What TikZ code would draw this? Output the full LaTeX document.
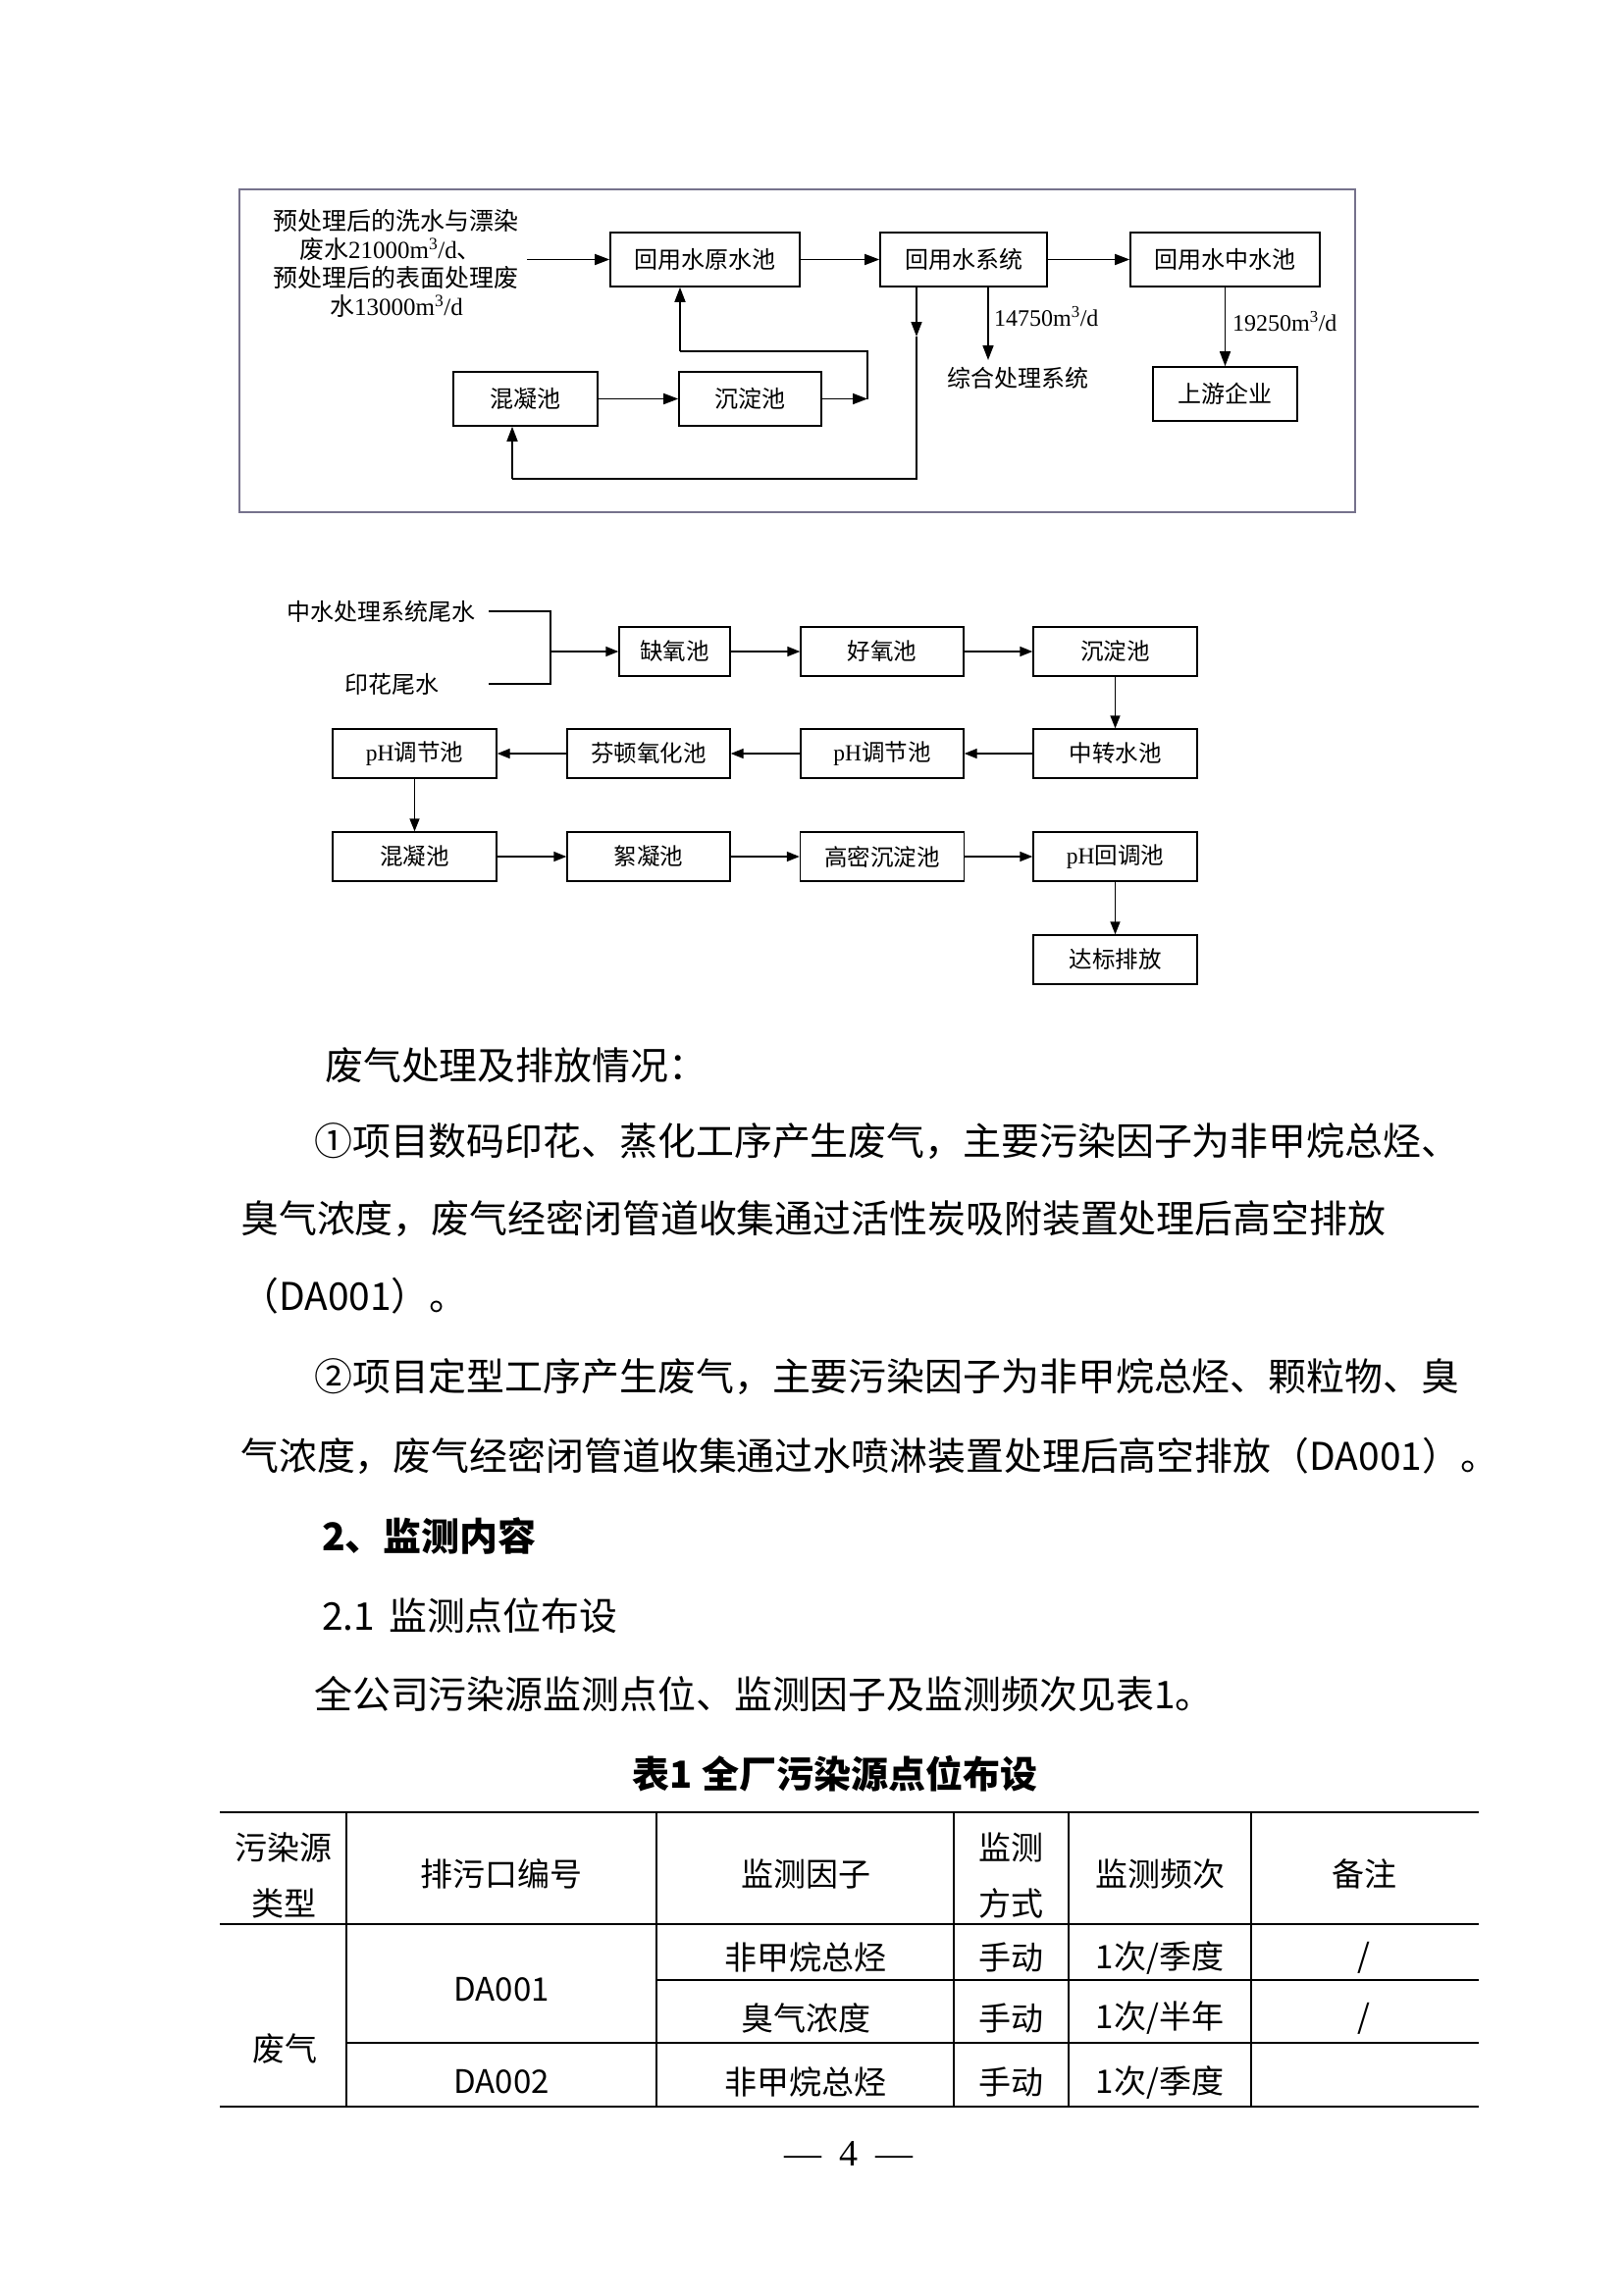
\documentclass[tikz,border=0pt]{standalone}
\usepackage{fontspec}
\setmainfont{Liberation Serif}
\newfontfamily\cjk{Noto Sans CJK SC}
\usetikzlibrary{arrows.meta}
\newcommand{\fsz}[1]{\fontsize{#1}{#1}\selectfont}
\newcommand{\zh}[1]{{\cjk #1}}
\definecolor{framec}{RGB}{118,114,140}
\tikzset{
  box/.style={draw, line width=1.6pt, minimum height=55pt, inner sep=0pt, font=\cjk\fsz{24}},
  boxb/.style={draw, line width=1.4pt, minimum height=50pt, inner sep=0pt, font=\cjk\fsz{23.5}},
  arr/.style={-{Triangle[length=15pt,width=11pt]}, line width=1.6pt},
  arrb/.style={-{Triangle[length=13pt,width=10pt]}, line width=1.4pt},
  ln/.style={line width=1.6pt},
  lnb/.style={line width=1.4pt},
  lbl/.style={inner sep=0pt, font=\fsz{24}},
  srcl/.style={inner sep=0pt, font=\fsz{25}},
  body/.style={anchor=west, inner sep=0pt, font=\cjk\fsz{38.9}},
  cell/.style={inner sep=0pt, font=\cjk\fsz{33}},
  rule/.style={line width=2.6pt},
  thin/.style={line width=1.5pt}
}
\begin{document}
\begin{tikzpicture}[x=1pt,y=-1pt]
\fill[white] (0,0) rectangle (1654,2339);
\useasboundingbox (0,0) rectangle (1654,2339);

% ---------- top diagram ----------
\draw[framec, line width=1.3pt] (244,193) rectangle (1381,522);
\node[srcl] (src1) at (403,225) {\zh{预处理后的洗水与漂染}};
\node[srcl] (src2) at (398,254) {\zh{废水}21000m\textsuperscript{3}/d\zh{、}};
\node[srcl] (src3) at (403,283) {\zh{预处理后的表面处理废}};
\node[srcl] (src4) at (404,312) {\zh{水}13000m\textsuperscript{3}/d};
\node[box, minimum width=193pt] (yuan) at (718.5,264.5) {回用水原水池};
\node[box, minimum width=170pt] (sys) at (982,264.5) {回用水系统};
\node[box, minimum width=193pt] (zhong) at (1248.5,264.5) {回用水中水池};
\node[box, minimum width=147pt] (hn) at (535.5,406.5) {混凝池};
\node[box, minimum width=145pt] (cd) at (764.5,406.5) {沉淀池};
\node[box, minimum width=147pt] (sy) at (1248.5,401.5) {上游企业};
\node[lbl, font=\cjk\fsz{24}] (zhtxt) at (1037,385) {综合处理系统};

\coordinate (srcend) at (537,264.5);
\draw[arr] (srcend) -- (yuan.west);
\draw[arr] (yuan.east) -- (sys.west);
\draw[arr] (sys.east) -- (zhong.west);
\draw[arr] (hn.east) -- (cd.west);
% loop from sedimentation back to raw pool
\coordinate (j1) at (884,406.5);
\coordinate (j2) at (884,358);
\coordinate (j3) at (693,358);
\draw[arr] (cd.east) -- (j1);
\draw[ln] (j1) -- (j2) -- (j3);
\draw[arr] (j3) -- (j3 |- yuan.south);
% return line from system to coagulation
\coordinate (s0) at (934,292);
\coordinate (s1) at (934,343);
\coordinate (s2) at (934,488);
\coordinate (s3) at (522,488);
\draw[arr] (s0) -- (s1);
\draw[ln] (s1) -- (s2) -- (s3);
\draw[arr] (s3) -- (s3 |- hn.south);
% to integrated system
\coordinate (x14) at (1007,292);
\coordinate (x14e) at (1007,367);
\draw[arr] (x14) -- (x14e);
\node[lbl, anchor=west] (l14) at (1013,323) {14750m\textsuperscript{3}/d};
% to upstream
\draw[arr] (zhong.south) -- (sy.north);
\node[lbl, anchor=west] (l19) at (1256,328) {19250m\textsuperscript{3}/d};

% ---------- second diagram ----------
\node[lbl, font=\cjk\fsz{24}] (in1) at (388,623) {中水处理系统尾水};
\node[lbl, font=\cjk\fsz{24}] (in2) at (399,697) {印花尾水};
\coordinate (a1) at (498,623);
\coordinate (a2) at (561,623);
\coordinate (a3) at (561,697);
\coordinate (a4) at (498,697);
\coordinate (am) at (561,664);
\draw[lnb] (a1) -- (a2) -- (a3) -- (a4);

\node[boxb, minimum width=113pt] (qy) at (687.5,664) {缺氧池};
\node[boxb, minimum width=166pt] (hy) at (899,664) {好氧池};
\node[boxb, minimum width=167pt] (cd2) at (1136.5,664) {沉淀池};
\node[boxb, minimum width=167pt] (ph1) at (422.5,768) {\rmfamily pH\cjk 调节池};
\node[boxb, minimum width=166pt] (fd) at (661,768) {芬顿氧化池};
\node[boxb, minimum width=166pt] (ph2) at (899,768) {\rmfamily pH\cjk 调节池};
\node[boxb, minimum width=167pt] (zz) at (1136.5,768) {中转水池};
\node[boxb, minimum width=167pt] (hn2) at (422.5,873) {混凝池};
\node[boxb, minimum width=166pt] (xn) at (661,873) {絮凝池};
\node[boxb, minimum width=167pt] (gm) at (899,873) {高密沉淀池};
\node[boxb, minimum width=167pt] (phh) at (1136.5,873) {\rmfamily pH\cjk 回调池};
\node[boxb, minimum width=167pt] (db) at (1136.5,978) {达标排放};

\draw[arrb] (am) -- (qy.west);
\draw[arrb] (qy.east) -- (hy.west);
\draw[arrb] (hy.east) -- (cd2.west);
\draw[arrb] (cd2.south) -- (zz.north);
\draw[arrb] (zz.west) -- (ph2.east);
\draw[arrb] (ph2.west) -- (fd.east);
\draw[arrb] (fd.west) -- (ph1.east);
\draw[arrb] (ph1.south) -- (hn2.north);
\draw[arrb] (hn2.east) -- (xn.west);
\draw[arrb] (xn.east) -- (gm.west);
\draw[arrb] (gm.east) -- (phh.west);
\draw[arrb] (phh.south) -- (db.north);

% ---------- body text ----------
\node[body] (t1) at (331,1086) {废气处理及排放情况：};
\node[body] (t2) at (320,1163) {①项目数码印花、蒸化工序产生废气，主要污染因子为非甲烷总烃、};
\node[body] (t3) at (245,1242) {臭气浓度，废气经密闭管道收集通过活性炭吸附装置处理后高空排放};
\node[body] (t4) at (245,1321) {（DA001）。};
\node[body] (t5) at (320,1403) {②项目定型工序产生废气，主要污染因子为非甲烷总烃、颗粒物、臭};
\node[body] (t6) at (245,1484) {气浓度，废气经密闭管道收集通过水喷淋装置处理后高空排放（DA001）。};
\node[body, font=\cjk\bfseries\fsz{39}] (t7) at (328,1565) {2、监测内容};
\node[body] (t8) at (328,1647) {2.1\hspace{14pt}监测点位布设};
\node[body] (t9) at (320,1727) {全公司污染源监测点位、监测因子及监测频次见表1。};
\node[body, anchor=center, font=\cjk\bfseries\fsz{38}] (t10) at (851,1808) {表1\hspace{10pt}全厂污染源点位布设};

% ---------- table ----------
\draw[rule] (224,1847) -- (1507,1847);
\draw[thin] (224,1961) -- (1507,1961);
\draw[thin] (669,2018) -- (1507,2018);
\draw[thin] (353,2082) -- (1507,2082);
\draw[rule] (224,2147) -- (1507,2147);
\foreach \cx in {353,669,972,1089,1275}
  \draw[thin] (\cx,1847) -- (\cx,2147);

\node[cell] (h1a) at (289,1883) {污染源};
\node[cell] (h1b) at (289,1940) {类型};
\node[cell] (h2) at (511,1910) {排污口编号};
\node[cell] (h3) at (821,1910) {监测因子};
\node[cell] (h4a) at (1030,1883) {监测};
\node[cell] (h4b) at (1030,1940) {方式};
\node[cell] (h5) at (1182,1910) {监测频次};
\node[cell] (h6) at (1390,1910) {备注};

\node[cell] (r1c3) at (821,1995) {非甲烷总烃};
\node[cell] (r1c4) at (1030,1995) {手动};
\node[cell] (r1c5) at (1182,1995) {1次/季度};
\node[cell] (r1c6) at (1390,1995) {/};
\node[cell] (da1) at (511,2028) {DA001};
\node[cell] (r2c3) at (821,2057) {臭气浓度};
\node[cell] (r2c4) at (1030,2057) {手动};
\node[cell] (r2c5) at (1182,2057) {1次/半年};
\node[cell] (r2c6) at (1390,2057) {/};
\node[cell] (fq) at (290,2088) {废气};
\node[cell] (da2) at (511,2122) {DA002};
\node[cell] (r3c3) at (821,2122) {非甲烷总烃};
\node[cell] (r3c4) at (1030,2122) {手动};
\node[cell] (r3c5) at (1182,2122) {1次/季度};

% ---------- page number ----------
\node[inner sep=0pt, font=\fsz{38}] (pg) at (865,2195) {—\hspace{18pt}4\hspace{18pt}—};
\end{tikzpicture}
\end{document}
